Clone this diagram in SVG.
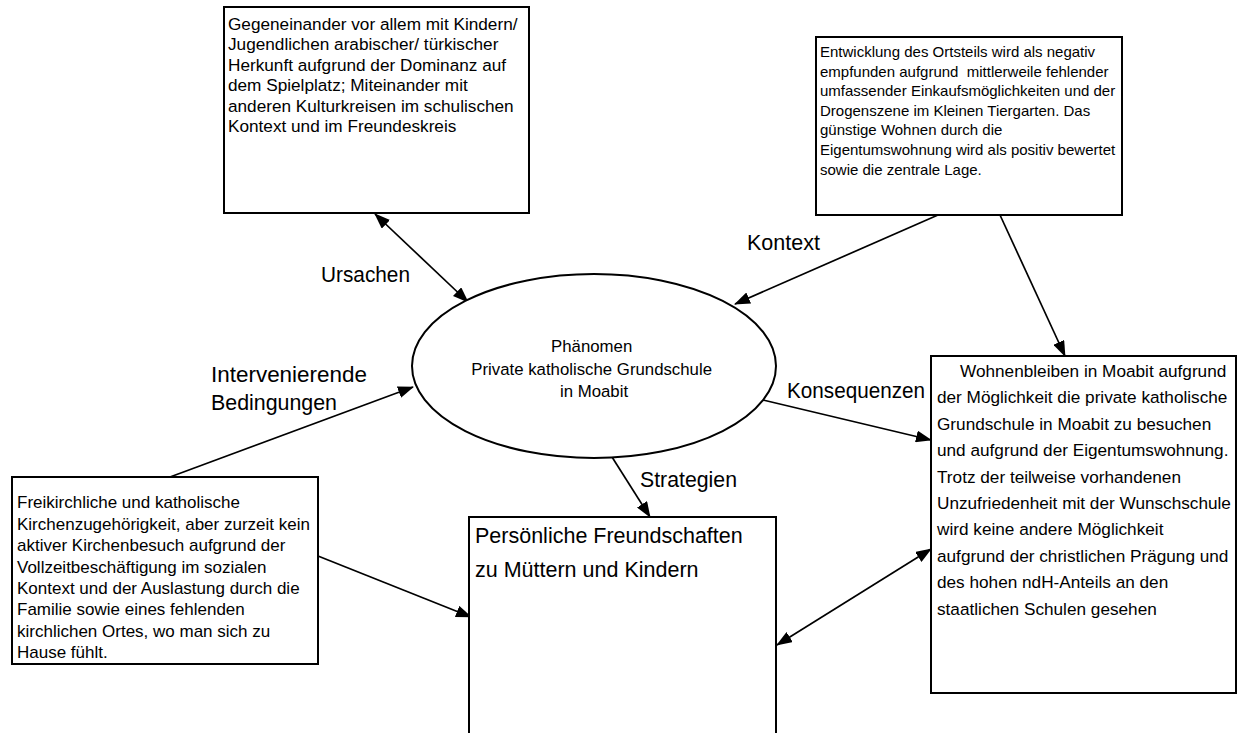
<svg xmlns="http://www.w3.org/2000/svg" width="1237" height="733" viewBox="0 0 1237 733">
<style>
  text { font-family: "Liberation Sans", Arial, sans-serif; fill: #000; }
  .box { fill: #fff; stroke: #000; stroke-width: 2; }
  .conn { stroke: #000; stroke-width: 1.7; fill: none; }
  .t1 { font-size: 17.2px; }
  .t2 { font-size: 15px; }
  .t3 { font-size: 17px; }
  .t4 { font-size: 17.2px; }
  .t5 { font-size: 21.5px; }
  .t6 { font-size: 16.8px; }
  .lbl { font-size: 21.5px; }
</style>
<defs>
  <marker id="ah" viewBox="0 0 16 12" refX="15" refY="6" markerWidth="16" markerHeight="12" markerUnits="userSpaceOnUse" orient="auto-start-reverse">
    <path d="M0,0 L16,6 L0,12 z" fill="#000"/>
  </marker>
</defs>
<rect width="1237" height="733" fill="#fff"/>

<g id="connectors">
  <line class="conn" x1="375" y1="214" x2="468" y2="302" marker-start="url(#ah)" marker-end="url(#ah)"/>
  <line class="conn" x1="938" y1="215" x2="735" y2="304" marker-end="url(#ah)"/>
  <line class="conn" x1="1000" y1="215" x2="1065" y2="356" marker-end="url(#ah)"/>
  <line class="conn" x1="170" y1="477" x2="413" y2="387" marker-end="url(#ah)"/>
  <line class="conn" x1="763" y1="400" x2="931" y2="440" marker-end="url(#ah)"/>
  <line class="conn" x1="612" y1="457" x2="650" y2="517" marker-end="url(#ah)"/>
  <line class="conn" x1="318" y1="556" x2="471" y2="617" marker-end="url(#ah)"/>
  <line class="conn" x1="777" y1="645" x2="931" y2="549" marker-start="url(#ah)" marker-end="url(#ah)"/>
</g>

<g id="labels">
  <text class="lbl" x="321" y="282" textLength="89" lengthAdjust="spacingAndGlyphs">Ursachen</text>
  <text class="lbl" x="211" y="382" textLength="156" lengthAdjust="spacingAndGlyphs">Intervenierende</text>
  <text class="lbl" x="211" y="410" textLength="126" lengthAdjust="spacingAndGlyphs">Bedingungen</text>
  <text class="lbl" x="747" y="250" textLength="73" lengthAdjust="spacingAndGlyphs">Kontext</text>
  <text class="lbl" x="787" y="398" textLength="138" lengthAdjust="spacingAndGlyphs">Konsequenzen</text>
  <text class="lbl" x="640" y="487" textLength="97" lengthAdjust="spacingAndGlyphs">Strategien</text>
</g>

<g id="ursachen-box">
  <rect class="box" x="224" y="7" width="305" height="206"/>
  <text class="t1">
    <tspan x="228" y="29.5">Gegeneinander vor allem mit Kindern/</tspan>
    <tspan x="228" y="50">Jugendlichen arabischer/ türkischer</tspan>
    <tspan x="228" y="70.5">Herkunft aufgrund der Dominanz auf</tspan>
    <tspan x="228" y="91">dem Spielplatz; Miteinander mit</tspan>
    <tspan x="228" y="111.5">anderen Kulturkreisen im schulischen</tspan>
    <tspan x="228" y="132">Kontext und im Freundeskreis</tspan>
  </text>
</g>

<g id="kontext-box">
  <rect class="box" x="816" y="37" width="306" height="178"/>
  <text class="t2" xml:space="preserve"><tspan x="820" y="57">Entwicklung des Ortsteils wird als negativ</tspan><tspan x="820" y="76.6">empfunden aufgrund  mittlerweile fehlender</tspan><tspan x="820" y="96.2">umfassender Einkaufsmöglichkeiten und der</tspan><tspan x="820" y="115.8">Drogenszene im Kleinen Tiergarten. Das</tspan><tspan x="820" y="135.4">günstige Wohnen durch die</tspan><tspan x="820" y="155">Eigentumswohnung wird als positiv bewertet</tspan><tspan x="820" y="174.6">sowie die zentrale Lage.</tspan></text>
</g>

<g id="phaenomen">
  <ellipse cx="594" cy="366" rx="182" ry="92" fill="#fff" stroke="#000" stroke-width="2"/>
  <text class="t6" text-anchor="middle">
    <tspan x="594" y="352">Phänomen</tspan>
    <tspan x="594" y="374.5">Private katholische Grundschule</tspan>
    <tspan x="594" y="397">in Moabit</tspan>
  </text>
</g>

<g id="bedingungen-box">
  <rect class="box" x="12" y="477" width="306" height="187"/>
  <text class="t3">
    <tspan x="17" y="508.3">Freikirchliche und katholische</tspan>
    <tspan x="17" y="529.7">Kirchenzugehörigkeit, aber zurzeit kein</tspan>
    <tspan x="17" y="551.1">aktiver Kirchenbesuch aufgrund der</tspan>
    <tspan x="17" y="572.5">Vollzeitbeschäftigung im sozialen</tspan>
    <tspan x="17" y="593.9">Kontext und der Auslastung durch die</tspan>
    <tspan x="17" y="615.3">Familie sowie eines fehlenden</tspan>
    <tspan x="17" y="636.7">kirchlichen Ortes, wo man sich zu</tspan>
    <tspan x="17" y="658.1">Hause fühlt.</tspan>
  </text>
</g>

<g id="strategien-box">
  <rect class="box" x="469" y="517" width="307" height="240"/>
  <text class="t5">
    <tspan x="475" y="543.3">Persönliche Freundschaften</tspan>
    <tspan x="475" y="577">zu Müttern und Kindern</tspan>
  </text>
</g>

<g id="konsequenzen-box">
  <rect class="box" x="931" y="356" width="305" height="337"/>
  <text class="t4">
    <tspan x="960" y="377">Wohnenbleiben in Moabit aufgrund</tspan>
    <tspan x="937" y="403.4">der Möglichkeit die private katholische</tspan>
    <tspan x="937" y="429.8">Grundschule in Moabit zu besuchen</tspan>
    <tspan x="937" y="456.2">und aufgrund der Eigentumswohnung.</tspan>
    <tspan x="937" y="482.6">Trotz der teilweise vorhandenen</tspan>
    <tspan x="937" y="509">Unzufriedenheit mit der Wunschschule</tspan>
    <tspan x="937" y="535.4">wird keine andere Möglichkeit</tspan>
    <tspan x="937" y="561.8">aufgrund der christlichen Prägung und</tspan>
    <tspan x="937" y="588.2">des hohen ndH-Anteils an den</tspan>
    <tspan x="937" y="614.6">staatlichen Schulen gesehen</tspan>
  </text>
</g>
</svg>
